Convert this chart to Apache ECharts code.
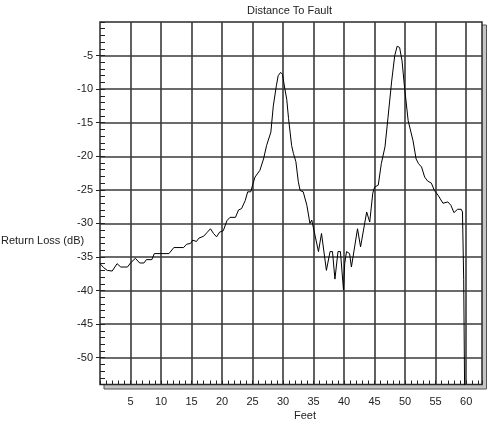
<!DOCTYPE html>
<html>
<head>
<meta charset="utf-8">
<script src="https://cdn.jsdelivr.net/npm/echarts@6/dist/echarts.min.js"></script>
<style>
html,body{margin:0;padding:0;background:#fff;}
#c{width:490px;height:423px;}
</style>
</head>
<body>
<div id="c"></div>
<script>
// Distance (feet)
var feet = [0.0,0.6,1.2,2.0,2.8,3.4,4.5,5.0,5.8,6.5,7.2,7.6,8.5,8.9,11.3,12.1,13.7,14.2,14.8,15.2,15.8,16.2,17.0,17.5,18.1,18.6,19.1,19.6,20.2,20.8,21.3,22.2,22.7,23.2,23.8,24.2,24.7,25.0,25.4,26.2,26.8,27.3,28.0,28.4,28.9,29.2,29.6,29.9,30.3,30.6,30.9,31.4,31.7,32.1,32.5,32.8,33.3,33.9,34.4,34.7,35.8,36.3,37.1,37.7,38.1,38.5,39.0,39.4,39.9,40.1,40.4,40.9,41.2,42.2,42.7,43.7,44.2,44.7,45.0,45.6,46.1,46.7,47.2,47.8,48.3,48.7,49.1,49.5,49.9,50.5,51.3,51.8,52.2,52.7,53.2,53.7,54.3,54.8,55.4,56.2,57.0,57.5,58.0,58.6,59.2,59.4,59.6,59.8];
// Return loss (dB)
var returnLoss = [-36.0,-36.6,-37.0,-37.1,-36.0,-36.5,-36.5,-35.9,-35.2,-35.9,-35.9,-35.4,-35.4,-34.5,-34.5,-33.6,-33.6,-33.1,-33.0,-32.5,-32.7,-32.2,-31.9,-31.4,-30.8,-31.5,-32.0,-31.3,-31.1,-29.6,-29.1,-29.1,-28.0,-27.8,-26.6,-25.3,-25.3,-24.3,-23.1,-22.1,-20.4,-18.4,-16.4,-12.5,-9.5,-8.0,-7.5,-7.8,-10.0,-11.5,-14.4,-18.4,-19.6,-20.8,-23.8,-25.1,-25.3,-27.3,-30.0,-29.5,-34.2,-31.5,-37.0,-34.2,-34.2,-38.3,-34.2,-34.2,-39.9,-36.0,-34.2,-34.5,-36.5,-30.8,-33.5,-28.3,-29.8,-25.5,-24.6,-24.3,-21.1,-18.6,-14.2,-8.8,-5.0,-3.6,-3.8,-5.8,-9.7,-14.7,-17.7,-20.4,-21.1,-21.6,-23.1,-23.7,-24.0,-25.1,-25.8,-27.0,-26.8,-27.3,-28.4,-27.9,-27.9,-28.3,-38.4,-60];
var xTicks = [5,10,15,20,25,30,35,40,45,50,55,60];
var yTicks = [-5,-10,-15,-20,-25,-30,-35,-40,-45,-50];
var titleText = 'Distance To Fault';
var xName = 'Feet';
var yName = 'Return Loss (dB)';

var pts = feet.map(function(f, i){ return [f, returnLoss[i]]; });
var FONT = '"Liberation Sans", Arial, sans-serif';
var gridColor = '#3a3a3a';

var chart = echarts.init(document.getElementById('c'), null, {renderer:'canvas'});
chart.setOption({
  animation: false,
  backgroundColor: '#fff',
  title: {
    text: titleText, left: 242, top: 0,
    textStyle: {fontFamily: FONT, fontSize: 11, fontWeight: 'normal', color: '#222'}
  },
  grid: {
    left: 100, top: 22, right: 8, bottom: 38.5,
    show: true, backgroundColor: '#fff', borderColor: '#2a2a2a', borderWidth: 1.5
  },
  xAxis: [{
    type: 'value', min: 0, max: 62.6, position: 'bottom',
    axisLine: {show: false, onZero: false},
    axisTick: {show: false, customValues: xTicks},
    splitLine: {show: true, lineStyle: {color: gridColor, width: 1.6}},
    axisLabel: {margin: 12, fontFamily: FONT, fontSize: 11, color: '#222', customValues: xTicks}
  }, {
    type: 'value', min: 0, max: 62.6, interval: 1, position: 'bottom',
    axisLine: {show: false, onZero: false}, splitLine: {show: false}, axisLabel: {show: false},
    axisTick: {show: true, inside: true, length: 4, lineStyle: {color: '#222', width: 1}}
  }],
  yAxis: [{
    type: 'value', min: -54, max: 0, position: 'left',
    axisLine: {show: false, onZero: false},
    axisTick: {show: true, inside: false, length: 4, customValues: yTicks, lineStyle: {color: '#222', width: 1}},
    splitLine: {show: true, lineStyle: {color: gridColor, width: 1.6}},
    axisLabel: {margin: 7, fontFamily: FONT, fontSize: 11, color: '#222', customValues: yTicks}
  }, {
    type: 'value', min: -54, max: 0, interval: 1, position: 'left',
    axisLine: {show: false, onZero: false}, splitLine: {show: false}, axisLabel: {show: false},
    axisTick: {show: true, inside: true, length: 5, lineStyle: {color: '#222', width: 1}}
  }],
  graphic: [{
    type: 'rect', z: -5, silent: true,
    shape: {x: 104, y: 25, width: 382.5, height: 364},
    style: {fill: '#c4c4c4', stroke: '#555', lineWidth: 1}
  }, {
    type: 'text', left: 1, top: 235,
    style: {text: yName, font: '11px ' + FONT, fill: '#222'}
  }, {
    type: 'text', left: 294, top: 410,
    style: {text: xName, font: '11px ' + FONT, fill: '#222'}
  }],
  series: [{
    type: 'line', xAxisIndex: 0, yAxisIndex: 0, data: pts,
    showSymbol: false, clip: true,
    lineStyle: {color: '#000', width: 1}
  }]
});
</script>
</body>
</html>
